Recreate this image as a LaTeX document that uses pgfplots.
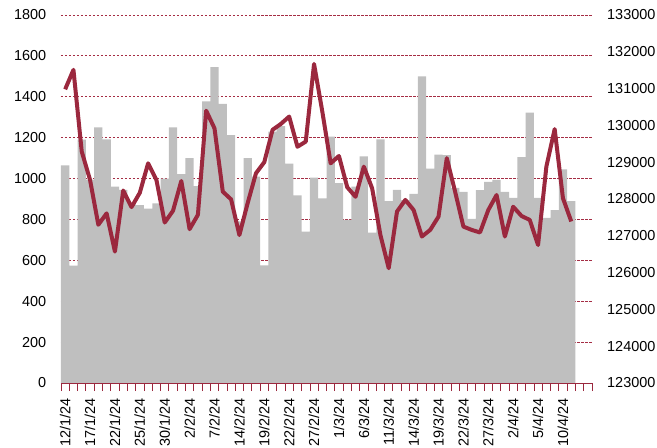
\documentclass[border=0pt]{standalone}
\usepackage{fontspec}
\setmainfont{Liberation Sans}
\usepackage{pgfplots}
\usepackage{pgfplotstable}
\pgfplotsset{compat=1.18}
\definecolor{barc}{RGB}{191,191,191}
\definecolor{linec}{RGB}{155,40,62}
\definecolor{gridc}{RGB}{165,45,68}

\pgfplotstableread{
x y
0 1064
1 574
2 1190
3 995
4 1250
5 1192
6 960
7 945
8 880
9 870
10 853
11 878
12 1000
13 1250
14 1022
15 1100
16 963
17 1378
18 1545
19 1365
20 1213
21 790
22 1100
23 1010
24 575
25 1230
26 1257
27 1073
28 918
29 740
30 1005
31 903
32 1205
33 978
34 798
35 960
36 1108
37 735
38 1192
39 890
40 945
41 895
42 925
43 1500
44 1048
45 1117
46 1115
47 955
48 935
49 803
50 943
51 984
52 994
53 935
54 906
55 1105
56 1322
57 906
58 808
59 845
60 1045
61 889
}\bardata

\pgfplotstableread{
x y
0 130980
1 131510
2 129290
3 128520
4 127300
5 127610
6 126570
7 128230
8 127780
9 128170
10 128970
11 128520
12 127360
13 127680
14 128490
15 127180
16 127570
17 130400
18 129920
19 128200
20 127990
21 127020
22 127890
23 128700
24 129000
25 129880
26 130040
27 130240
28 129420
29 129560
30 131670
31 130370
32 128970
33 129170
34 128320
35 128060
36 128880
37 128290
38 127020
39 126120
40 127660
41 127975
42 127700
43 126980
44 127160
45 127520
46 129110
47 128200
48 127250
49 127160
50 127090
51 127700
52 128110
53 126980
54 127790
55 127540
56 127430
57 126750
58 128880
59 129900
60 128020
61 127390
}\linedata

\begin{document}
\begin{tikzpicture}
\pgfplotsset{base/.style={
  scale only axis, width=531bp, height=368bp,
  xmin=-0.5, xmax=63.5,
  tick label style={font=\fontsize{14.5}{16}\selectfont},
}}
\begin{axis}[base,
  ymin=0, ymax=1800, ytick={0,200,400,600,800,1000,1200,1400,1600,1800},
  yticklabels={0,200,400,600,800,1000,1200,1400,1600,1800},
  axis x line*=bottom, axis y line*=left,
  y axis line style={draw=none},
  x axis line style={draw=linec, line width=0.8bp, -},
  ymajorgrids,
  grid style={draw=gridc, line width=0.8bp, dash pattern=on 2.5bp off 1.5bp},
  ytick style={draw=none},
  yticklabel style={anchor=east, inner sep=0pt, xshift=-12.5bp},
  xtick={0,3,...,60},
  xticklabels={12/1/24,17/1/24,22/1/24,25/1/24,30/1/24,2/2/24,7/2/24,14/2/24,19/2/24,22/2/24,27/2/24,1/3/24,6/3/24,11/3/24,14/3/24,19/3/24,22/3/24,27/3/24,2/4/24,5/4/24,10/4/24},
  major x tick style={draw=none},
  minor xtick={-0.5,0.5,...,63.5},
  minor tick style={draw=linec, line width=0.8bp},
  minor tick length=8bp,
  tick align=center,
  xticklabel style={rotate=90, anchor=east, inner sep=0pt},
  xticklabel shift=11bp,
  ybar, bar width=1,
]
\addplot[fill=barc, draw=none] table[x=x, y=y] {\bardata};
\coordinate (SW) at (rel axis cs:0,0);
\coordinate (NE) at (rel axis cs:1,1);
\end{axis}
\begin{axis}[base,
  ymin=123000, ymax=133000,
  ytick={123000,124000,125000,126000,127000,128000,129000,130000,131000,132000,133000},
  yticklabels={123000,124000,125000,126000,127000,128000,129000,130000,131000,132000,133000},
  scaled y ticks=false,
  axis x line=none, axis y line*=right,
  y axis line style={draw=none},
  ytick style={draw=none},
  yticklabel style={anchor=west, inner sep=0pt, xshift=15bp},
]
\addplot[linec, line width=4bp, line join=round, mark=none] table[x=x, y=y] {\linedata};
\end{axis}
\pgfresetboundingbox
\path ([shift={(-61bp,-65bp)}]SW) rectangle ([shift={(65bp,15bp)}]NE);
\end{tikzpicture}
\end{document}
